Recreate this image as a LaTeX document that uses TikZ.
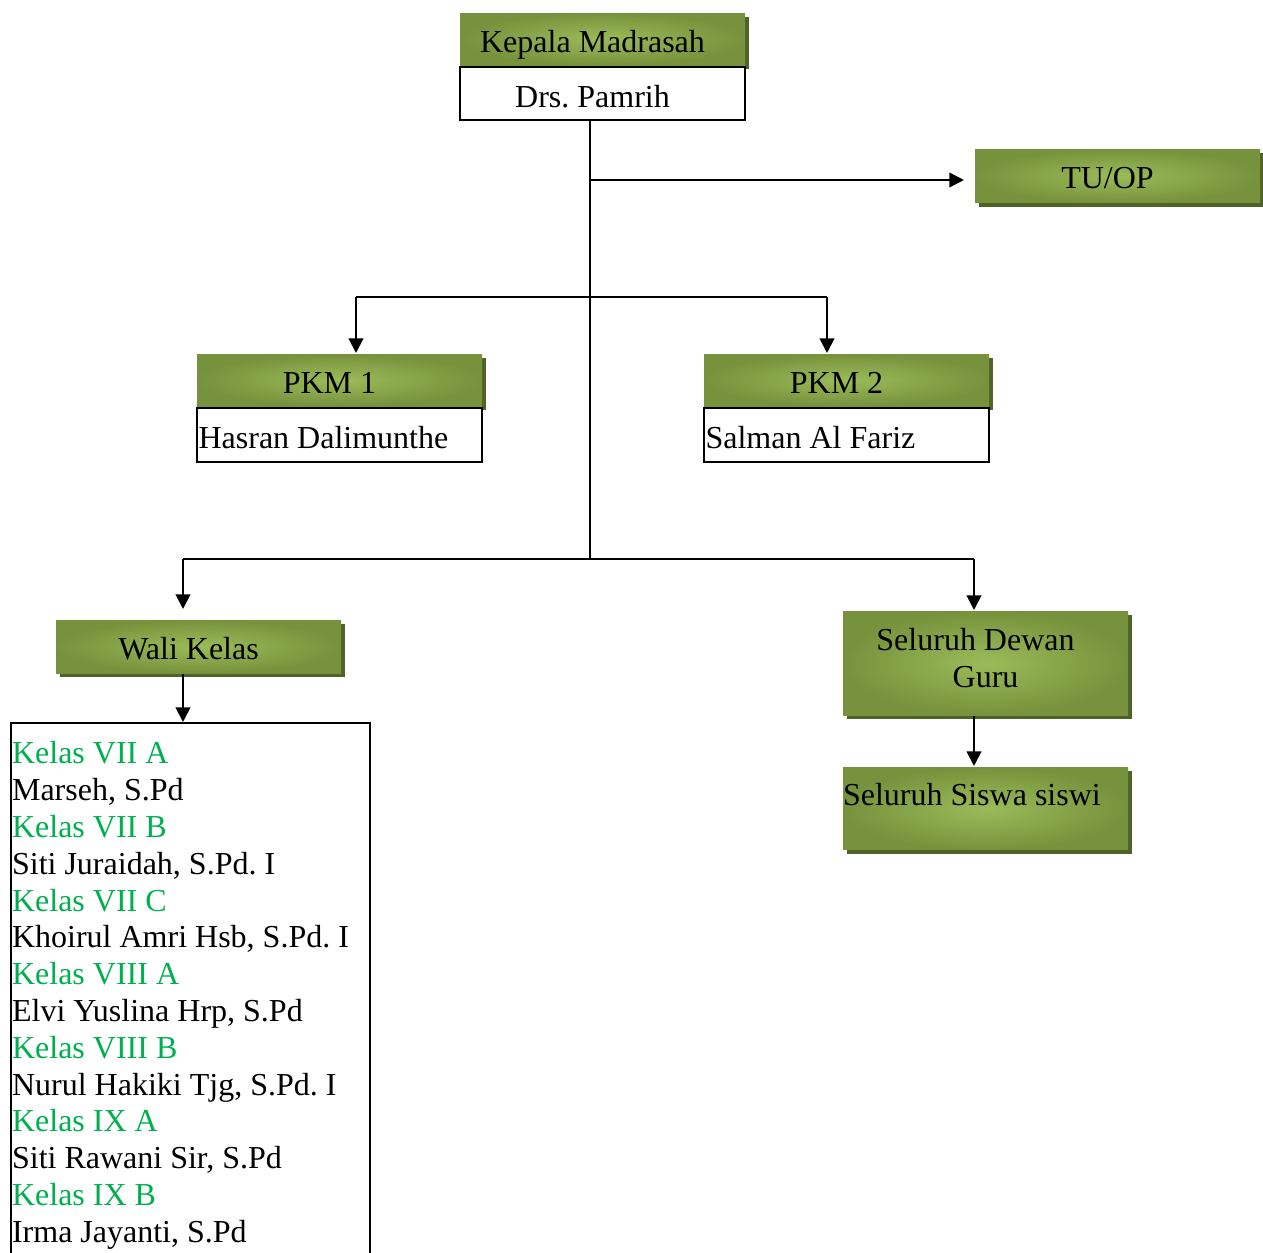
\documentclass[tikz,border=0pt]{standalone}
\usepackage{fontspec}
\setmainfont{Liberation Serif}
\usepackage{xcolor}
\usetikzlibrary{positioning,shadows,arrows.meta}
\frenchspacing

\definecolor{oliveLight}{HTML}{9BBB59}
\definecolor{oliveDark}{HTML}{76923C}
\definecolor{oliveShadow}{HTML}{4F6228}
\definecolor{kelasGreen}{HTML}{00B050}

\begin{document}
\begin{tikzpicture}[x=0.375pt, y=-0.375pt, line width=0.75pt,
    every node/.style={font=\fontsize{12}{13.8}\selectfont, inner sep=0pt},
    head/.style={rectangle, inner color=oliveLight, outer color=oliveDark,
      drop shadow={shadow xshift=1.5pt, shadow yshift=-1.5pt, fill=oliveShadow, opacity=1},
      minimum width=106.9pt, anchor=north west, text height=14.7pt, text depth=4.8pt},
    namebox/.style={rectangle, draw, fill=white, text width=105.7pt, inner xsep=0.6pt,
      text height=15pt, text depth=4.9pt},
    nudge/.style={execute at begin node={\noindent\hspace*{-7.5pt}}},
    arr/.style={-{Triangle[length=5.5pt,width=5.5pt]}}]

  \useasboundingbox (0,0) rectangle (1263,1253);

  % boxes
  \node[head, nudge] (kepala) at (459,12) {Kepala Madrasah};
  \node[namebox, nudge, align=flush center, below=0pt of kepala] (pamrih) {Drs. Pamrih};

  \node[head, nudge, text depth=5.5pt] (tuop) at (974,148) {TU/OP};

  \node[head, nudge] (pkm1) at (196,353) {PKM 1};
  \node[namebox, align=flush left, text depth=5.25pt, below=0pt of pkm1] (hasran) {Hasran Dalimunthe};
  \node[head, nudge] (pkm2) at (703,353) {PKM 2};
  \node[namebox, align=flush left, text depth=5.25pt, below=0pt of pkm2] (salman) {Salman Al Fariz};

  \node[head, nudge, text depth=5.2pt] (wali) at (55,619) {Wali Kelas};
  \node[head, nudge, align=flush center, text width=106.9pt, text depth=24.3pt] (dewan) at (842,610) {Seluruh Dewan\\Guru};
  \node[head, align=flush left, text width=106.9pt, text height=14.6pt, text depth=16.5pt,
    below=18.75pt of dewan] (siswa) {Seluruh Siswa siswi};

  \node[draw, fill=white, anchor=north west, text width=133.8pt, inner xsep=0.4pt, align=flush left,
    text height=15.3pt, text depth=189pt] (daftar) at (10,722) {%
    \textcolor{kelasGreen}{Kelas VII A}\\
    Marseh, S.Pd\\
    \textcolor{kelasGreen}{Kelas VII B}\\
    Siti Juraidah, S.Pd. I\\
    \textcolor{kelasGreen}{Kelas VII C}\\
    Khoirul Amri Hsb, S.Pd. I\\
    \textcolor{kelasGreen}{Kelas VIII A}\\
    Elvi Yuslina Hrp, S.Pd\\
    \textcolor{kelasGreen}{Kelas VIII B}\\
    Nurul Hakiki Tjg, S.Pd. I\\
    \textcolor{kelasGreen}{Kelas IX A}\\
    Siti Rawani Sir, S.Pd\\
    \textcolor{kelasGreen}{Kelas IX B}\\
    Irma Jayanti, S.Pd};

  % branch points
  \coordinate (j1) at (590,180);
  \coordinate (j3) at (590,559);
  \coordinate (b1) at (356,297);
  \coordinate (b2) at (827,297);
  \coordinate (b3) at (183,559);
  \coordinate (b4) at (974,559);

  % connectors
  \draw (pamrih.south -| j1) -- (j3);
  \draw[arr, shorten >=3.75pt] (j1) -- (j1 -| tuop.west);
  \draw (b1) -- (b2);
  \draw[arr] (b1) -- (b1 |- pkm1.north);
  \draw[arr] (b2) -- (b2 |- pkm2.north);
  \draw (b3) -- (b4);
  \draw[arr, shorten >=3.75pt] (b3) -- (b3 |- wali.north);
  \draw[arr] (b4) -- (b4 |- dewan.north);
  \draw[arr] (b3 |- wali.south) -- (b3 |- daftar.north);
  \draw[arr] (b4 |- dewan.south) -- (b4 |- siswa.north);
\end{tikzpicture}
\end{document}
